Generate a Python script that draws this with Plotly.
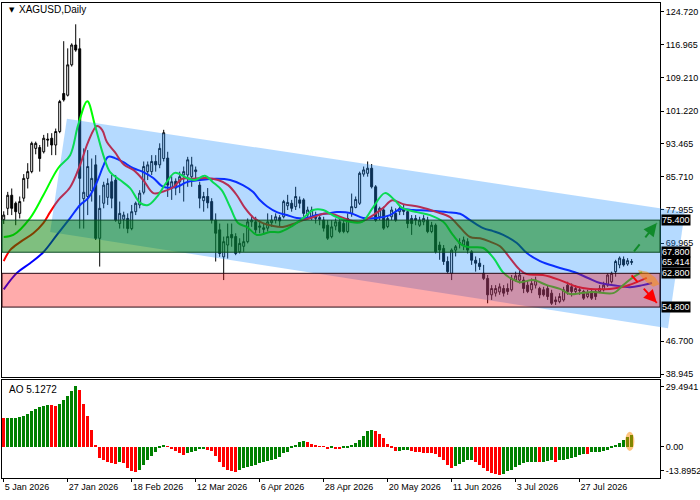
import plotly.graph_objects as go

# daily candles, bar 0 = 5 Jan 2026
opens = [75.5, 78.2, 81.3, 79.4, 77.0, 80.6, 85.3, 86.9, 92.4, 92.6,
         91.6, 94.6, 94.8, 93.2, 96.4, 105.4, 105.0, 112.2, 116.9, 116.0,
         80.5, 81.0, 82.3, 88.5, 71.1, 79.4, 80.8, 84.5, 84.9, 74.6,
         75.6, 75.8, 73.4, 77.4, 79.0, 82.0, 86.9, 86.9, 89.3, 88.5,
         90.0, 90.1, 83.0, 84.6, 84.5, 86.1, 86.1, 85.7, 86.9, 83.7,
         80.0, 81.0, 79.8, 75.4, 73.1, 66.7, 69.5, 72.0, 71.5, 67.9,
         69.2, 70.3, 75.0, 75.0, 73.7, 73.2, 73.5, 74.8, 75.4, 76.0,
         76.2, 78.8, 79.4, 78.6, 80.2, 80.2, 76.6, 76.2, 75.8, 76.0,
         75.4, 74.2, 71.5, 74.0, 75.0, 74.6, 72.7, 77.0, 78.4, 79.4,
         86.3, 86.5, 87.7, 83.3, 76.2, 77.8, 73.9, 76.2, 77.0, 77.4,
         77.8, 77.4, 75.8, 75.8, 74.2, 75.0, 75.4, 72.7, 74.2, 69.5,
         68.7, 65.6, 62.8, 68.3, 69.9, 69.5, 70.3, 67.9, 65.9, 65.2,
         62.8, 61.6, 57.7, 58.1, 58.4, 59.2, 59.2, 58.9, 61.2, 61.2,
         61.2, 60.0, 58.9, 60.0, 59.2, 58.9, 59.2, 58.1, 56.5, 56.1,
         56.5, 60.0, 59.6, 58.5, 58.9, 58.5, 57.3, 58.5, 58.5, 58.5,
         58.9, 60.0, 60.8, 63.2, 64.8, 66.1, 65.0, 65.6]
highs = [77.5, 82.1, 82.9, 79.8, 81.0, 86.3, 88.9, 94.0, 94.0, 93.2,
         95.6, 96.0, 96.0, 97.1, 103.9, 117.8, 116.1, 117.3, 121.8, 118.5,
         92.4, 92.0, 90.0, 90.8, 81.3, 84.5, 85.3, 86.1, 86.1, 79.8,
         77.4, 77.0, 79.0, 79.8, 82.5, 89.3, 89.3, 90.8, 90.8, 93.6,
         96.8, 91.6, 85.8, 85.3, 86.9, 88.1, 90.4, 90.4, 88.1, 84.5,
         82.1, 83.0, 80.6, 77.0, 74.6, 71.5, 74.6, 74.6, 72.3, 71.1,
         72.3, 75.8, 76.6, 76.2, 75.4, 74.6, 77.0, 76.6, 77.0, 76.6,
         80.2, 81.4, 80.2, 83.3, 81.0, 80.6, 78.6, 78.6, 77.4, 76.6,
         76.2, 75.4, 75.4, 75.8, 76.2, 75.4, 77.0, 81.7, 81.0, 86.9,
         88.1, 89.3, 88.7, 83.7, 78.6, 78.6, 76.6, 78.6, 78.2, 79.0,
         79.0, 77.8, 76.6, 76.6, 76.2, 76.6, 76.2, 75.0, 74.6, 70.3,
         69.5, 66.8, 68.7, 69.5, 71.1, 71.5, 71.1, 68.3, 66.8, 66.4,
         64.8, 62.4, 60.0, 60.0, 60.4, 60.0, 60.4, 62.4, 63.2, 63.6,
         62.0, 61.2, 61.6, 62.0, 59.6, 59.6, 60.0, 58.9, 57.3, 58.1,
         59.6, 60.8, 60.4, 60.0, 59.6, 58.9, 58.9, 59.2, 58.9, 60.0,
         60.8, 62.8, 63.2, 66.0, 66.8, 66.8, 66.4, 66.2]
lows = [74.5, 76.6, 76.6, 74.2, 75.8, 79.8, 82.9, 86.5, 91.0, 86.9,
        91.2, 92.8, 90.8, 90.8, 96.0, 103.5, 104.7, 111.8, 115.3, 73.4,
        73.4, 76.6, 79.8, 70.7, 64.4, 78.2, 79.0, 78.2, 75.0, 73.4,
        73.4, 72.3, 73.0, 76.6, 78.2, 81.5, 84.9, 86.1, 86.9, 87.7,
        89.3, 80.9, 80.2, 81.3, 81.8, 79.8, 83.3, 83.3, 85.3, 78.2,
        77.4, 78.2, 74.6, 65.6, 66.7, 61.2, 66.3, 69.1, 67.1, 67.5,
        67.9, 69.9, 73.8, 72.3, 72.3, 71.9, 72.7, 73.8, 74.6, 73.8,
        75.8, 77.8, 77.4, 77.8, 78.2, 76.2, 75.8, 75.4, 74.6, 74.2,
        72.7, 70.7, 71.1, 73.0, 72.3, 72.3, 72.3, 76.2, 78.2, 79.0,
        85.7, 85.7, 82.9, 75.0, 75.4, 73.1, 73.5, 75.4, 75.0, 76.6,
        76.6, 73.5, 71.9, 74.2, 73.8, 74.2, 72.3, 72.3, 67.5, 66.0,
        64.8, 62.8, 61.2, 66.8, 68.7, 68.3, 67.5, 64.8, 63.2, 63.6,
        61.2, 55.7, 56.5, 57.3, 57.7, 57.3, 57.7, 58.5, 60.8, 60.4,
        58.1, 58.1, 58.1, 59.2, 56.9, 57.3, 56.5, 55.3, 55.3, 55.7,
        56.1, 57.7, 57.3, 58.1, 57.7, 56.5, 56.9, 56.5, 56.5, 58.1,
        58.5, 59.6, 60.4, 62.0, 64.0, 64.4, 64.6, 64.8]
closes = [76.6, 81.3, 78.2, 77.4, 79.8, 85.3, 86.9, 93.6, 93.6, 90.0,
          94.8, 94.4, 93.2, 96.4, 103.5, 103.9, 112.2, 116.9, 115.7, 85.3,
          82.0, 88.1, 85.3, 71.1, 78.2, 83.7, 84.1, 80.6, 75.4, 77.0,
          76.6, 73.4, 77.4, 79.4, 81.8, 88.1, 88.5, 89.3, 88.5, 92.4,
          96.1, 83.7, 84.5, 83.0, 85.7, 86.9, 89.7, 88.5, 87.3, 80.6,
          81.0, 79.5, 75.4, 72.3, 67.5, 70.3, 71.5, 71.2, 67.5, 69.9,
          70.3, 75.0, 75.4, 73.1, 74.0, 73.6, 75.0, 75.4, 76.2, 75.2,
          79.8, 79.6, 78.2, 81.0, 79.4, 77.0, 77.8, 77.8, 76.2, 75.6,
          73.5, 71.1, 73.8, 75.0, 72.7, 72.7, 75.8, 78.6, 80.3, 86.5,
          87.3, 87.7, 83.3, 75.4, 78.2, 73.5, 75.8, 77.8, 75.4, 78.2,
          77.5, 74.6, 74.6, 75.4, 75.4, 75.8, 72.7, 74.2, 67.9, 68.3,
          65.6, 63.2, 68.3, 69.1, 70.1, 70.7, 68.3, 65.9, 65.2, 64.4,
          61.6, 57.7, 59.2, 59.2, 59.6, 58.1, 58.5, 61.6, 62.2, 62.4,
          59.2, 58.5, 60.4, 61.2, 57.7, 57.7, 57.3, 55.7, 56.1, 57.3,
          58.9, 58.5, 58.5, 59.2, 58.7, 56.9, 58.1, 56.9, 57.3, 59.2,
          60.0, 62.4, 62.8, 65.6, 66.4, 64.8, 65.8, 65.414]

# Awesome Oscillator
ao = [12.5, 12.6, 12.65, 12.7, 13.1, 13.6, 14.6, 15.8, 16.8, 17.5,
      18.1, 18.4, 18.3, 17.8, 18.7, 20.5, 22.2, 24.6, 26.8, 25.0,
      18.7, 13.5, 7.3, 0.3, -5.1, -5.8, -6.6, -7.3, -7.6, -6.6,
      -7.3, -9.5, -10.9, -11.4, -10.2, -8.3, -5.8, -4.1, -2.2, -0.6,
      0.3, 0.15, -1.0, -1.8, -2.9, -3.8, -2.9, -2.6, -2.0, -1.0,
      -0.9, -1.5, -2.0, -4.1, -6.6, -9.1, -10.5, -11.0, -11.4, -10.2,
      -9.5, -9.1, -8.5, -8.1, -7.3, -6.6, -6.3, -5.8, -5.6, -4.4,
      -2.9, -2.2, -0.7, 0.7, 2.2, 2.5, 2.0, 1.2, 0.6, 0.15,
      -0.15, -0.9, -0.45, -0.9, -1.2, -0.7, -0.3, 0.6, 1.8, 2.9,
      4.7, 7.0, 7.3, 7.0, 5.5, 3.6, 1.2, -0.3, -1.9, -1.75,
      -1.7, -1.65, -2.0, -2.3, -2.6, -2.7, -2.75, -2.8, -3.2, -4.7,
      -6.1, -8.0, -9.6, -8.8, -7.6, -6.6, -6.1, -5.8, -6.6, -8.0,
      -9.5, -11.0, -11.7, -12.3, -12.4, -12.0, -11.0, -10.2, -9.1, -8.0,
      -7.3, -6.9, -6.7, -6.6, -6.8, -6.6, -6.3, -6.1, -6.6, -6.1,
      -5.8, -5.5, -5.1, -4.4, -3.7, -3.2, -3.4, -2.6, -2.3, -2.2,
      -1.9, -1.5, -0.4, 0.6, 1.8, 2.9, 4.1, 5.1272]

# alligator lines (bar index, price)
lips_x = [0, 2.4, 6.6, 9.9, 13.6, 16.6, 18.6, 20.9, 22.8, 24.9, 26.6, 29.1, 31.6, 34.1, 36.1,
          38.3, 40.8, 42.8, 45.8, 47.8, 50.3, 52.3, 54.5, 56.6, 58.6, 60.8, 63.3, 66.6, 69.1,
          72.1, 74.9, 77.4, 79.9, 82.4, 86.6, 89.6, 92.4, 95.3, 97.8, 99.6, 103.3, 106.6, 109.9,
          112.3, 114.6, 116.6, 119.9, 122.4, 124.8, 126.6, 129.1, 132.4, 135.8, 139.1, 141.6,
          144.1, 147.4, 152.4, 154.9, 157.4, 159.6]
lips_y = [71.4, 71.9, 75.9, 81.3, 87.7, 90.8, 97.9, 103.6, 97.9, 90.8, 86.8, 84.9, 83.0, 79.5, 79.0,
          80.9, 84.5, 86.6, 85.4, 84.9, 85.9, 84.4, 82.5, 78.5, 74.7, 73.8, 71.9, 72.6, 72.6,
          74.0, 75.9, 77.8, 77.8, 76.5, 75.0, 75.0, 78.5, 81.8, 80.1, 78.3, 77.3, 76.6, 75.0,
          71.9, 69.5, 69.0, 68.8, 66.5, 63.1, 61.7, 60.7, 61.2, 60.0, 59.1, 57.9,
          58.1, 58.4, 58.1, 60.0, 61.9, 63.1]
teeth_x = [0, 1.6, 4.1, 7.4, 9.9, 11.6, 13.6, 16.6, 19.1, 21.1, 23.3, 24.6, 25.8, 27.8, 30.1,
           32.4, 34.9, 37.4, 39.9, 42.4, 44.6, 47.4, 50.8, 53.6, 56.1, 58.3, 60.3, 62.3, 64.8,
           67.4, 69.8, 72.4, 74.9, 77.4, 79.9, 82.4, 84.9, 89.1, 92.4, 94.9, 97.1, 99.9, 104.1,
           108.3, 111.6, 113.6, 116.6, 119.1, 121.6, 124.1, 126.6, 129.1, 130.8, 134.8, 139.1,
           143.3, 146.6, 151.6, 154.9, 158.3, 160.8]
teeth_y = [65.7, 68.3, 70.2, 72.3, 74.7, 77.3, 80.1, 83.2, 88.5, 93.9, 97.7, 96.8, 93.9, 91.5, 88.5,
           87.3, 84.9, 81.8, 82.2, 83.2, 85.2, 85.2, 85.4, 84.9, 83.7, 81.3, 78.3, 76.1, 74.7,
           74.0, 73.8, 74.5, 75.4, 76.1, 76.9, 76.8, 75.9, 75.0, 76.6, 78.3, 80.1, 79.2, 78.5,
           77.3, 76.1, 74.2, 71.4, 71.1, 70.3, 69.2, 66.4, 63.6, 62.6, 62.4, 61.2,
           59.6, 59.1, 59.1, 59.6, 60.7, 61.7]
jaw_x = [0, 3.3, 6.6, 9.9, 13.3, 16.6, 19.1, 21.1, 23.3, 24.8, 26.1, 27.8, 29.8, 32.4, 34.9,
         37.4, 39.9, 43.3, 45.8, 49.1, 53.3, 56.6, 59.8, 62.3, 64.1, 65.8, 68.3, 70.8, 73.3,
         75.8, 78.3, 81.6, 83.3, 86.6, 89.9, 93.3, 96.6, 99.1, 102.4, 106.6, 110.8, 114.1,
         116.6, 119.9, 122.4, 124.9, 128.3, 130.8, 134.1, 138.3, 142.6, 146.1, 149.1, 152.4,
         156.6, 159.8, 162.1]
jaw_y = [59.0, 62.9, 65.2, 67.8, 71.9, 75.9, 79.0, 80.6, 84.4, 88.0, 90.4, 90.1, 89.2, 87.7, 86.8,
         85.4, 83.3, 83.3, 84.4, 84.9, 85.2, 84.9, 83.7, 82.1, 80.1, 78.7, 77.3, 76.6, 75.9,
         75.9, 76.6, 77.1, 77.3, 77.1, 75.9, 75.9, 76.6, 78.0, 77.8, 77.6, 77.3, 76.9,
         75.4, 73.5, 72.8, 71.9, 70.0, 67.6, 65.7, 64.3, 63.1, 61.7, 60.5, 60.0,
         59.5, 60.0, 60.5]

date_ticks = [0, 16, 32, 48, 64, 80, 96, 112, 128, 144]
date_labels = ["5 Jan 2026", "27 Jan 2026", "18 Feb 2026", "12 Mar 2026", "6 Apr 2026",
               "28 Apr 2026", "20 May 2026", "11 Jun 2026", "3 Jul 2026", "27 Jul 2026"]
price_ticks = [124.72, 116.965, 109.21, 101.22, 93.465, 85.71, 77.955, 69.965, 46.7, 38.945]
ao_ticks = [26.6, 0, -10.7]
ao_labels = ["29.4941", "0.00", "-13.8952"]

resistance = [75.4, 67.8]
support = [62.8, 54.8]
last_price = 65.414

# trend channel corners (bar index, price)
channel_bars = [15.8, 170.3, 166.1, 11.6]
channel_prices = [99.4, 77.3, 49.8, 72.6]

# forecast arrows (start, end)
up_arrow_bars, up_arrow_prices = [157.6, 163.3], [68.0, 74.7]
down_arrow_bars, down_arrow_prices = [157.0, 163.3], [62.3, 55.8]
fan_bars = [158.6, 160.9, 162.9, 164.0, 162.4, 160.6, 159.2]
fan_prices = [63.6, 63.2, 61.8, 60.2, 59.6, 60.8, 62.3]

x_range = [-0.43, 164.1]
bars = list(range(len(closes)))
FONT = "Liberation Sans"

ao_colors = ["#ff0000"]
for i in range(1, len(ao)):
    ao_colors.append("#008000" if ao[i] > ao[i - 1] else "#ff0000")

fig = go.Figure()
fig.add_trace(go.Candlestick(
    x=bars, open=opens, high=highs, low=lows, close=closes,
    increasing=dict(line=dict(color="black", width=1), fillcolor="white"),
    decreasing=dict(line=dict(color="black", width=1), fillcolor="black"),
    whiskerwidth=0, showlegend=False, hoverinfo="skip"))
for lx, ly, col in [(jaw_x, jaw_y, "#0000ff"), (teeth_x, teeth_y, "#ff0000"), (lips_x, lips_y, "#00ff00")]:
    fig.add_trace(go.Scatter(x=lx, y=ly, mode="lines", line=dict(color=col, width=2, shape="spline"),
                             showlegend=False, hoverinfo="skip"))
fig.add_trace(go.Bar(x=bars, y=ao, marker=dict(color=ao_colors, line=dict(width=0)), width=0.75,
                     xaxis="x2", yaxis="y2", showlegend=False, hoverinfo="skip"))


def to_paper(b):
    return (b - x_range[0]) / (x_range[1] - x_range[0])


path = "M " + " L ".join(f"{to_paper(b)},{p}" for b, p in zip(channel_bars, channel_prices)) + " Z"
shapes = [dict(type="path", path=path, xref="paper", yref="y", layer="above",
               fillcolor="rgba(30,144,255,0.33)", line=dict(width=0))]
shapes.append(dict(type="rect", xref="paper", yref="y", x0=0, x1=1, y0=resistance[1], y1=resistance[0],
                   layer="above", fillcolor="rgba(0,128,0,0.5)", line=dict(color="#0b4a24", width=1)))
shapes.append(dict(type="rect", xref="paper", yref="y", x0=0, x1=1, y0=support[1], y1=support[0],
                   layer="above", fillcolor="rgba(255,0,0,0.33)", line=dict(color="#2a0a14", width=1)))
fan_path = "M " + " L ".join(f"{b},{p}" for b, p in zip(fan_bars, fan_prices)) + " Z"
shapes.append(dict(type="path", path=fan_path, xref="x", yref="y", layer="above",
                   fillcolor="rgba(255,140,0,0.5)", line=dict(width=0)))
for ab, ap, col in [(up_arrow_bars, up_arrow_prices, "#108a2a"), (down_arrow_bars, down_arrow_prices, "#ff0000")]:
    shapes.append(dict(type="line", xref="x", yref="y", x0=ab[0], y0=ap[0], x1=ab[1], y1=ap[1],
                       layer="above", line=dict(color=col, width=2, dash="dash")))
shapes.append(dict(type="circle", xref="x2", yref="y2", x0=155.4, x1=157.7, y0=-1.9, y1=6.6,
                   layer="above", fillcolor="rgba(255,140,0,0.5)", line=dict(width=0)))

annotations = []
for ab, ap, col in [(up_arrow_bars, up_arrow_prices, "#108a2a"), (down_arrow_bars, down_arrow_prices, "#ff0000")]:
    annotations.append(dict(x=ab[1], y=ap[1], ax=ab[1] - 0.3 * (ab[1] - ab[0]), ay=ap[1] - 0.3 * (ap[1] - ap[0]),
                            axref="x", ayref="y", xref="x", yref="y", text="", showarrow=True,
                            arrowhead=2, arrowsize=1.3, arrowwidth=2, arrowcolor=col))
for lvl in [resistance[0], resistance[1], last_price, support[0], support[1]]:
    annotations.append(dict(x=1.0, y=lvl, xref="paper", yref="y", xanchor="left", yanchor="middle",
                            xshift=1, text=f"{lvl:.3f}", showarrow=False, bgcolor="#000000",
                            borderpad=0, font=dict(family=FONT, size=9, color="white")))
annotations.append(dict(x=0.007, y=0.986, xref="paper", yref="paper", xanchor="left", yanchor="middle",
                        text="▼", showarrow=False, font=dict(family="DejaVu Sans", size=7, color="black")))
annotations.append(dict(x=0.023, y=0.986, xref="paper", yref="paper", xanchor="left", yanchor="middle",
                        text="XAGUSD,Daily", showarrow=False, font=dict(family=FONT, size=10, color="black")))
annotations.append(dict(x=0.008, y=0.186, xref="paper", yref="paper", xanchor="left", yanchor="middle",
                        text="AO 5.1272", showarrow=False, font=dict(family=FONT, size=10, color="black")))

axis_common = dict(showgrid=False, zeroline=False, showline=True, mirror=True, linecolor="black",
                   linewidth=1, fixedrange=True, automargin=False)
fig.update_layout(
    width=700, height=500,
    margin=dict(l=2, r=40, t=3, b=22),
    paper_bgcolor="white", plot_bgcolor="white",
    font=dict(family=FONT, size=9, color="black"),
    bargap=0,
    hovermode=False,
    xaxis=dict(domain=[0, 1], anchor="y", range=x_range, showticklabels=False, ticks="",
               rangeslider=dict(visible=False), **axis_common),
    yaxis=dict(domain=[0.2126, 1], anchor="x", side="right", range=[38.23, 126.85],
               tickvals=price_ticks, ticktext=[f"{v:.3f}" for v in price_ticks],
               ticks="outside", ticklen=3, tickcolor="black", tickfont=dict(size=9), **axis_common),
    xaxis2=dict(domain=[0, 1], anchor="y2", range=x_range, matches="x", tickangle=0,
                tickvals=date_ticks, ticktext=date_labels, ticks="outside", ticklen=3, tickcolor="black",
                ticklabelposition="outside right", tickfont=dict(size=9), **axis_common),
    yaxis2=dict(domain=[0, 0.2063], anchor="x2", side="right", range=[-13.8952, 29.4941],
                tickvals=ao_ticks, ticktext=ao_labels, ticks="outside", ticklen=3, tickcolor="black",
                tickfont=dict(size=9), **axis_common),
    shapes=shapes,
    annotations=annotations,
)

# drop the browser's default page margin so the 700x500 figure fills the window
fig.write_html("out.html", config={"displayModeBar": False},
               post_script="document.body.style.margin='0';")
